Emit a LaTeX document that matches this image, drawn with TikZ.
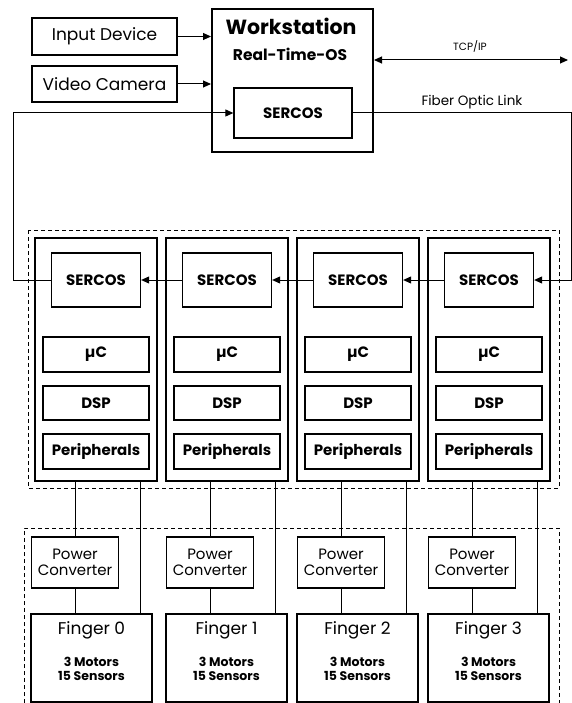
\documentclass[tikz,border=0pt]{standalone}
\usepackage{fontspec}
\setmainfont{Poppins}
\usetikzlibrary{arrows.meta,calc}
\tikzset{
  box/.style={draw, line width=1.3pt, inner sep=0pt, align=center},
  thickbox/.style={draw, line width=2pt, inner sep=0pt, align=center},
  conn/.style={line width=1pt},
  arr/.style={conn, -{Triangle[length=8pt,width=7pt]}},
  darr/.style={conn, {Triangle[length=8pt,width=7pt]}-{Triangle[length=8pt,width=7pt]}},
  dashbox/.style={line width=1pt, dash pattern=on 4pt off 3pt},
  lbl/.style={inner sep=0pt},
  bf/.style={font=\bfseries\fontsize{15}{17}\selectfont},
}
\begin{document}
\begin{tikzpicture}[x=1pt,y=-1pt]
\useasboundingbox (0,0) rectangle (572,703);
% top
\node[box, minimum width=145, minimum height=37, font=\fontsize{17}{19}\selectfont] (inp) at (104.5,36.5) {Input Device};
\node[box, minimum width=145, minimum height=36, font=\fontsize{17}{19}\selectfont] (cam) at (104.5,84) {Video Camera};
\node[thickbox, minimum width=161, minimum height=143] (ws) at (292.5,80.5) {};
\node[lbl, font=\bfseries\fontsize{20.5}{22}\selectfont] (wst) at (291,26) {Workstation};
\node[lbl, font=\bfseries\fontsize{15.5}{17}\selectfont] (rtos) at (290,54) {Real-Time-OS};
\node[box, bf, minimum width=118, minimum height=50] (sw) at (293,113) {SERCOS};
\draw[arr] (inp.east) -- (inp.east -| ws.west);
\draw[arr] (cam.east) -- (cam.east -| ws.west);
\coordinate (tcpend) at (568,60);
\draw[darr] (tcpend -| ws.east) -- (tcpend);
\node[lbl, font=\fontsize{10.5}{12}\selectfont] (tcp) at (470,46) {TCP/IP};
\node[lbl, font=\fontsize{13.5}{15}\selectfont] (fol) at (472,102) {Fiber Optic Link};
\coordinate (fr) at (571,113);
\coordinate (fl) at (13,113);
% dashed groups
\draw[dashbox] (28,230) rectangle (559,488);
\draw[dashbox] (24,703) -- (24,528) -- (559,528) -- (559,703);
% columns
\foreach \i/\x/\lx in {0/35/31,1/166/166,2/297/297,3/428/428}{
  \node[thickbox, minimum width=122, minimum height=243] (col\i) at (\x+61,359.5) {};
  \node[box, bf, minimum width=89, minimum height=54] (ser\i) at (\x+61,280) {SERCOS};
  \node[box, bf, minimum width=106, minimum height=35] (uc\i) at (\x+61,354.5) {µC};
  \node[box, bf, minimum width=106, minimum height=34] (dsp\i) at (\x+61,403) {DSP};
  \node[box, bf, minimum width=106, minimum height=35] (per\i) at (\x+61,451.5) {Peripherals};
  \node[box, minimum width=87, minimum height=51, font=\fontsize{15}{16}\selectfont] (pc\i) at (\lx+44,562.5) {Power\\Converter};
  \node[thickbox, minimum width=121, minimum height=88, anchor=north] (fin\i) at (\lx+60.5,613) {};
  \node[lbl, font=\fontsize{17}{19}\selectfont] (fint\i) at (\lx+60.5,630) {Finger \i};
  \node[lbl, font=\bfseries\fontsize{12.5}{14}\selectfont, align=center] (mot\i) at (\lx+60.5,669) {3 Motors\\15 Sensors};
  \draw[conn] (col\i.south -| pc\i.north) -- (pc\i.north);
  \draw[conn] (pc\i.south) -- (pc\i.south |- fin\i.north);
  \draw[conn] (fin\i.north east) ++(-13,0) coordinate (t\i) -- (t\i |- col\i.south);
}
\draw[arr] (ser1.west) -- (ser0.east);
\draw[arr] (ser2.west) -- (ser1.east);
\draw[arr] (ser3.west) -- (ser2.east);
\draw[arr] (sw.east) -- (fr) |- (ser3.east);
\draw[arr] (ser0.west) -| (fl) -- (sw.west);
\end{tikzpicture}
\end{document}
